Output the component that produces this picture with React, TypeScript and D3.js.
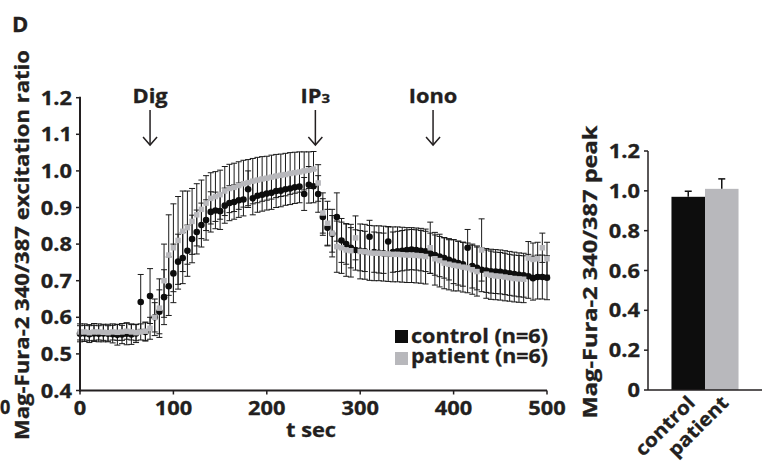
import React from "react";
import * as d3 from "d3";

// ---------- DATA ----------
const timeSec = [
  0, 5, 10, 15, 20, 25, 30, 35, 40, 45, 50, 55, 60, 65, 70, 75, 80, 85, 90, 95,
  100, 105, 110, 115, 120, 125, 130, 135, 140, 145, 150, 155, 160, 165, 170, 175, 180, 185, 190, 195,
  200, 205, 210, 215, 220, 225, 230, 235, 240, 245, 250, 255, 260, 265, 270, 275, 280, 285, 290, 295,
  300, 305, 310, 315, 320, 325, 330, 335, 340, 345, 350, 355, 360, 365, 370, 375, 380, 385, 390, 395,
  400, 405, 410, 415, 420, 425, 430, 435, 440, 445, 450, 455, 460, 465, 470, 475, 480, 485, 490, 495, 500,
];

const controlMean = [
  0.555, 0.556, 0.554, 0.556, 0.555, 0.556, 0.555, 0.554, 0.552, 0.553, 0.555, 0.553, 0.556,
  0.642, 0.56, 0.658, 0.6, 0.615, 0.655, 0.685, 0.72, 0.752, 0.762, 0.782, 0.814, 0.833, 0.852, 0.866, 0.888,
  0.892, 0.89, 0.905, 0.912, 0.915, 0.92, 0.922, 0.95, 0.925, 0.932, 0.935, 0.938, 0.94, 0.945, 0.946, 0.95, 0.952, 0.955, 0.957,
  0.937, 0.962, 0.958, 0.937,
  0.874, 0.845, 0.828, 0.874, 0.81,
  0.8, 0.79, 0.784, 0.782, 0.78, 0.82, 0.778, 0.776, 0.775, 0.807, 0.778, 0.78, 0.782, 0.784, 0.785, 0.784, 0.782, 0.78, 0.775, 0.77, 0.766, 0.762, 0.757,
  0.752, 0.748, 0.745, 0.79, 0.74, 0.735, 0.73, 0.728, 0.726, 0.725, 0.724, 0.722, 0.72, 0.718, 0.716, 0.715, 0.712, 0.707, 0.71, 0.71, 0.708,
];

const controlErr = [
  0.022, 0.022, 0.023, 0.022, 0.022, 0.023, 0.022, 0.024, 0.028, 0.025, 0.03, 0.027, 0.025,
  0.075, 0.025, 0.075, 0.04, 0.06, 0.075, 0.08, 0.08, 0.075, 0.07, 0.07, 0.065, 0.06, 0.06, 0.055, 0.055,
  0.05, 0.05, 0.048, 0.048, 0.047, 0.047, 0.045, 0.05, 0.045, 0.045, 0.045, 0.045, 0.045, 0.045, 0.044, 0.044, 0.044, 0.044, 0.044,
  0.045, 0.05, 0.045, 0.05,
  0.05, 0.05, 0.05, 0.066, 0.06,
  0.055, 0.055, 0.055, 0.055, 0.055, 0.045, 0.055, 0.055, 0.055, 0.04, 0.055, 0.055, 0.055, 0.055, 0.055, 0.055, 0.055, 0.055, 0.055, 0.055, 0.055, 0.055, 0.055,
  0.06, 0.06, 0.06, 0.05, 0.06, 0.06, 0.06, 0.06, 0.06, 0.06, 0.06, 0.06, 0.06, 0.06, 0.06, 0.06, 0.06, 0.06, 0.06, 0.06, 0.06,
];

const patientMean = [
  0.56, 0.56, 0.558, 0.56, 0.56, 0.559, 0.558, 0.56, 0.559, 0.56, 0.562, 0.56, 0.558, 0.56, 0.562,
  0.57, 0.6, 0.625, 0.7, 0.77, 0.79, 0.81, 0.835, 0.845, 0.862, 0.88, 0.895, 0.912, 0.925,
  0.93, 0.935, 0.945, 0.952, 0.955, 0.96, 0.965, 0.968, 0.972, 0.975, 0.978, 0.98, 0.983, 0.986, 0.988, 0.99, 0.993, 0.995, 0.997, 1.0, 1.002, 1.005,
  0.967, 0.885, 0.857, 0.83, 0.793, 0.79, 0.784, 0.782, 0.817, 0.78,
  0.779, 0.776, 0.775, 0.775, 0.774, 0.773, 0.772, 0.772, 0.771, 0.77, 0.77, 0.769, 0.768, 0.766,
  0.79, 0.76, 0.755, 0.748, 0.745, 0.742, 0.74, 0.737, 0.735, 0.73, 0.725, 0.784, 0.718, 0.715, 0.713, 0.712, 0.71, 0.708, 0.706, 0.705, 0.704, 0.762, 0.758, 0.76, 0.79, 0.76,
];

const patientErr = [
  0.022, 0.022, 0.022, 0.023, 0.022, 0.022, 0.023, 0.022, 0.022, 0.023, 0.022, 0.022, 0.022, 0.022, 0.025,
  0.03, 0.05, 0.08, 0.1, 0.11, 0.12, 0.12, 0.11, 0.1, 0.09, 0.085, 0.08, 0.075, 0.07,
  0.068, 0.067, 0.067, 0.066, 0.066, 0.065, 0.064, 0.063, 0.062, 0.062, 0.061, 0.06, 0.06, 0.059, 0.058, 0.058, 0.057, 0.056, 0.055, 0.052, 0.05, 0.048,
  0.05, 0.055, 0.06, 0.065, 0.07, 0.07, 0.072, 0.072, 0.06, 0.075,
  0.075, 0.075, 0.075, 0.075, 0.075, 0.075, 0.075, 0.075, 0.075, 0.075, 0.075, 0.075, 0.075, 0.075,
  0.07, 0.072, 0.072, 0.07, 0.07, 0.07, 0.068, 0.068, 0.068, 0.067, 0.067, 0.085, 0.066, 0.066, 0.065, 0.065, 0.065, 0.064, 0.064, 0.064, 0.064, 0.045, 0.045, 0.045, 0.04, 0.045,
];

const lineYTicks = [0.4, 0.5, 0.6, 0.7, 0.8, 0.9, 1.0, 1.1, 1.2];
const lineXTicks = [0, 100, 200, 300, 400, 500];

const stimuli = ["Dig", "IP3", "Iono"];
const stimulusTimes = [75, 252, 378];

const groups = ["control", "patient"];
const peakMean = [0.97, 1.01];
const peakErr = [0.028, 0.05];
const barYTicks = [0, 0.2, 0.4, 0.6, 0.8, 1.0, 1.2];

// ---------- STYLE ----------
const INK = "#231f20";
const CONTROL = "#0d0d0d";
const PATIENT = "#b8b8bc";
const FONT = "'Open Sans', sans-serif";

function T({ x, y, size = 19, anchor = "start", sx = 1.15, rotate = 0, children, fill = INK, len }: any) {
  return (
    <text
      transform={`translate(${x},${y}) rotate(${rotate}) scale(${len ? 1 : sx},1)`}
      textAnchor={anchor}
      fontFamily={FONT}
      fontWeight={700}
      fontSize={size}
      fill={fill}
      stroke={fill}
      strokeWidth={0.3}
      textLength={len}
      lengthAdjust={len ? "spacingAndGlyphs" : undefined}
    >
      {children}
    </text>
  );
}

export default function App() {
  const x = d3.scaleLinear().domain([0, 500]).range([80, 547]);
  const y = d3.scaleLinear().domain([0.4, 1.2]).range([390.5, 97.7]);

  const xb = d3.scaleBand().domain(groups).range([648, 762]).paddingInner(0).paddingOuter(0.7);
  const yb = d3.scaleLinear().domain([0, 1.2]).range([390, 151]);

  const fmt1 = d3.format(".1f");
  const cap = 3;

  const series = [
    { mean: controlMean, err: controlErr },
    { mean: patientMean, err: patientErr },
  ];

  return (
    <svg width={769} height={464} style={{ position: "absolute", left: 0, top: 0, background: "#fff" }}>
      <rect width={769} height={464} fill="#fff" />
      {/* panel letter */}
      <T x={12} y={32} size={21} sx={1.05}>D</T>
      {/* visible end of the previous panel's axis label */}
      <T x={0} y={414} size={19} sx={0.95}>0</T>

      {/* error bars */}
      {series.map((s, si) => (
        <g key={"e" + si} stroke="#1a1a1a" strokeWidth={1}>
          {timeSec.map((t, i) => {
            const cx = x(t);
            const y0 = y(s.mean[i] - s.err[i]);
            const y1 = y(s.mean[i] + s.err[i]);
            return (
              <g key={i}>
                <line x1={cx} x2={cx} y1={y0} y2={y1} />
                <line x1={cx - cap} x2={cx + cap} y1={y0} y2={y0} />
                <line x1={cx - cap} x2={cx + cap} y1={y1} y2={y1} />
              </g>
            );
          })}
        </g>
      ))}
      {/* markers */}
      <g fill={CONTROL}>
        {timeSec.map((t, i) => (
          <circle key={i} cx={x(t)} cy={y(controlMean[i])} r={3.3} />
        ))}
      </g>
      <g fill={PATIENT}>
        {timeSec.map((t, i) => (
          <rect key={i} x={x(t) - 2.75} y={y(patientMean[i]) - 2.75} width={5.5} height={5.5} />
        ))}
      </g>

      {/* axes of line chart */}
      <g stroke={INK} strokeWidth={2}>
        <line x1={80} x2={80} y1={y(1.2) - 1} y2={y(0.4) + 1} />
        <line x1={79} x2={x(500)} y1={y(0.4)} y2={y(0.4)} />
        {lineYTicks.map((v) => (
          <line key={v} x1={76} x2={80} y1={y(v)} y2={y(v)} strokeWidth={1.5} />
        ))}
        {lineXTicks.map((v) => (
          <line key={v} x1={x(v)} x2={x(v)} y1={y(0.4)} y2={y(0.4) + 4} strokeWidth={1.5} />
        ))}
      </g>
      {lineYTicks.map((v) => (
        <T key={v} x={72} y={y(v) + 7} anchor="end">{fmt1(v)}</T>
      ))}
      {lineXTicks.map((v) => (
        <T key={v} x={x(v)} y={415} anchor="middle">{String(v)}</T>
      ))}
      <T x={311} y={437} anchor="middle" len={50}>t sec</T>
      <T x={29} y={245} anchor="middle" rotate={-90} len={390}>Mag-Fura-2 340/387 excitation ratio</T>

      {/* stimulus arrows */}
      {stimuli.map((s, i) => {
        const ax = x(stimulusTimes[i]);
        return (
          <g key={s}>
            {s === "IP3" ? (
              <text
                transform={`translate(${ax},103) scale(1.15,1)`}
                textAnchor="middle"
                fontFamily={FONT}
                fontWeight={700}
                fontSize={19}
                fill={INK}
                stroke={INK}
                strokeWidth={0.3}
              >
                IP<tspan fontSize={13}>3</tspan>
              </text>
            ) : (
              <T x={ax} y={103} anchor="middle">{s}</T>
            )}
            <g stroke={INK} strokeWidth={1.5} fill="none">
              <line x1={ax} x2={ax} y1={110} y2={145} />
              <polyline points={`${ax - 7},137 ${ax},145 ${ax + 7},137`} />
            </g>
          </g>
        );
      })}

      {/* legend */}
      <rect x={395} y={330} width={13} height={13} fill={CONTROL} />
      <rect x={395} y={352} width={13} height={13} fill={PATIENT} />
      <T x={411} y={343} len={137}>control (n=6)</T>
      <T x={411} y={363} len={137}>patient (n=6)</T>

      {/* bar chart */}
      {groups.map((g, i) => (
        <rect
          key={g}
          x={xb(g)}
          y={yb(peakMean[i])}
          width={xb.bandwidth()}
          height={yb(0) - yb(peakMean[i])}
          fill={i === 0 ? CONTROL : PATIENT}
        />
      ))}
      {groups.map((g, i) => {
        const cx = (xb(g) as number) + xb.bandwidth() / 2;
        const yt = yb(peakMean[i] + peakErr[i]);
        return (
          <g key={"be" + g} stroke="#111" strokeWidth={1.5}>
            <line x1={cx} x2={cx} y1={yb(peakMean[i])} y2={yt} />
            <line x1={cx - 3.5} x2={cx + 3.5} y1={yt} y2={yt} />
          </g>
        );
      })}
      <g stroke={INK} strokeWidth={1.5}>
        <line x1={648} x2={648} y1={yb(1.2)} y2={yb(0)} />
        <line x1={648} x2={762} y1={yb(0)} y2={yb(0)} />
        {barYTicks.map((v) => (
          <line key={v} x1={644} x2={648} y1={yb(v)} y2={yb(v)} />
        ))}
      </g>
      {barYTicks.map((v) => (
        <T key={v} x={640} y={yb(v) + 7} anchor="end">{v === 0 ? "0" : fmt1(v)}</T>
      ))}
      {groups.map((g) => {
        const cx = (xb(g) as number) + xb.bandwidth() / 2;
        return (
          <T key={"l" + g} x={cx + 8} y={404} anchor="end" rotate={-45} sx={1.1}>{g}</T>
        );
      })}
      <T x={597} y={272} anchor="middle" rotate={-90} len={293}>Mag-Fura-2 340/387 peak</T>
    </svg>
  );
}
